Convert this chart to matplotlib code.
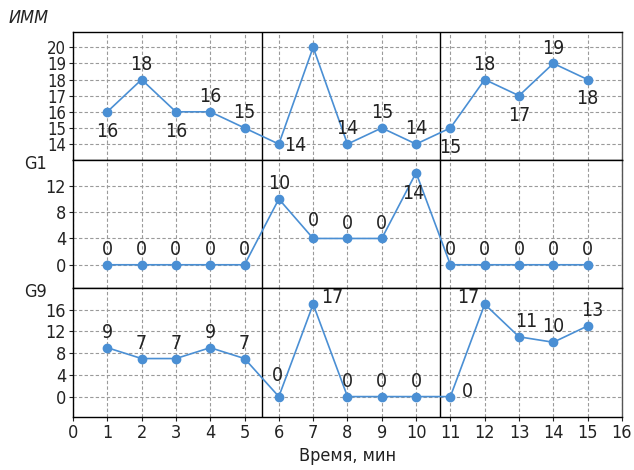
import numpy as np
import matplotlib
matplotlib.use('Agg')
import matplotlib.pyplot as plt
from matplotlib import font_manager as fm

# pick a narrow sans if one is installed
fonts = fm.fontManager.ttflist
names = {f.name for f in fonts}
if 'Liberation Sans Narrow' in names:
    plt.rcParams['font.family'] = ['Liberation Sans Narrow', 'DejaVu Sans']
elif any(f.name == 'DejaVu Sans' and 'condensed' in str(f.stretch) for f in fonts):
    plt.rcParams['font.family'] = ['DejaVu Sans']
    plt.rcParams['font.stretch'] = 'condensed'
else:
    plt.rcParams['font.family'] = ['Liberation Sans', 'DejaVu Sans']

minutes = list(range(1, 16))
imm = [16, 18, 16, 16, 15, 14, 20, 14, 15, 14, 15, 18, 17, 19, 18]
imm_labels = ['16', '18', '16', '16', '15', '14', '', '14', '15', '14', '15', '18', '17', '19', '18']
g1 = [0, 0, 0, 0, 0, 10, 4, 4, 4, 14, 0, 0, 0, 0, 0]
g1_labels = ['0', '0', '0', '0', '0', '10', '0', '0', '0', '14', '0', '0', '0', '0', '0']
g9 = [9, 7, 7, 9, 7, 0, 17, 0, 0, 0, 0, 17, 11, 10, 13]
g9_labels = ['9', '7', '7', '9', '7', '0', '17', '0', '0', '0', '0', '17', '11', '10', '13']
boundaries = [5.5, 10.7]

# label offsets in points (dx, dy)
up = (0, 11)
down = (0, -14)
imm_off = [down, up, down, up, up, (12, -1), up, up, up, up, down, up, down, up, down]
g1_off = [up] * 5 + [up, (0, 13), up, up, (-2, -15)] + [up] * 5
g9_off = [up, up, up, up, up, (-1, 15), (14, 5), up, up, up, (12, 4), (-12, 5), (5, 11), (0, 11), (3, 11)]

color = '#4a8fd4'

fig, axes = plt.subplots(3, 1, figsize=(6.34, 4.70), dpi=100, sharex=True)
fig.subplots_adjust(left=0.1151, right=0.981, top=0.932, bottom=0.1134, hspace=0)

panels = [
    (axes[0], imm, imm_labels, imm_off, (13.0, 20.95), range(14, 21)),
    (axes[1], g1, g1_labels, g1_off, (-3.6, 15.9), [0, 4, 8, 12]),
    (axes[2], g9, g9_labels, g9_off, (-3.7, 19.9), [0, 4, 8, 12, 16]),
]

for ax, vals, labs, offs, ylim, yt in panels:
    ax.plot(minutes, vals, color=color, lw=1.2, marker='o', ms=6, zorder=3)
    for x, v, t, o in zip(minutes, vals, labs, offs):
        if t:
            ax.annotate(t, (x, v), xytext=o, textcoords='offset points',
                        ha='center', va='center', fontsize=14, color='#222222')
    ax.set_ylim(*ylim)
    ax.set_yticks(list(yt))
    ax.set_xlim(0, 16)
    ax.set_xticks(range(0, 17))
    ax.grid(True, color='#9a9a9a', ls=(0, (3, 2)), lw=0.8)
    ax.set_axisbelow(True)
    for b in boundaries:
        ax.axvline(b, color='black', lw=1.0, zorder=2)
    ax.tick_params(labelsize=13, length=3, width=0.8, pad=2, colors='#222222')
    for s in ['left', 'top', 'bottom']:
        ax.spines[s].set_color('black')
        ax.spines[s].set_linewidth(1.0)
    ax.spines['right'].set_color('#555555')
    ax.spines['right'].set_linewidth(1.0)

axes[0].tick_params(axis='y', labelsize=12)
for ax in axes[:2]:
    ax.tick_params(axis='x', length=0)

fig.text(0.013, 0.962, 'ИММ', fontsize=13, style='italic', color='#222222', va='center')
fig.text(0.038, 0.652, 'G1', fontsize=13, color='#222222', va='center')
fig.text(0.038, 0.378, 'G9', fontsize=13, color='#222222', va='center')
axes[2].set_xlabel('Время, мин', fontsize=13, color='#222222', labelpad=4)

fig.savefig('out.png', dpi=100)
